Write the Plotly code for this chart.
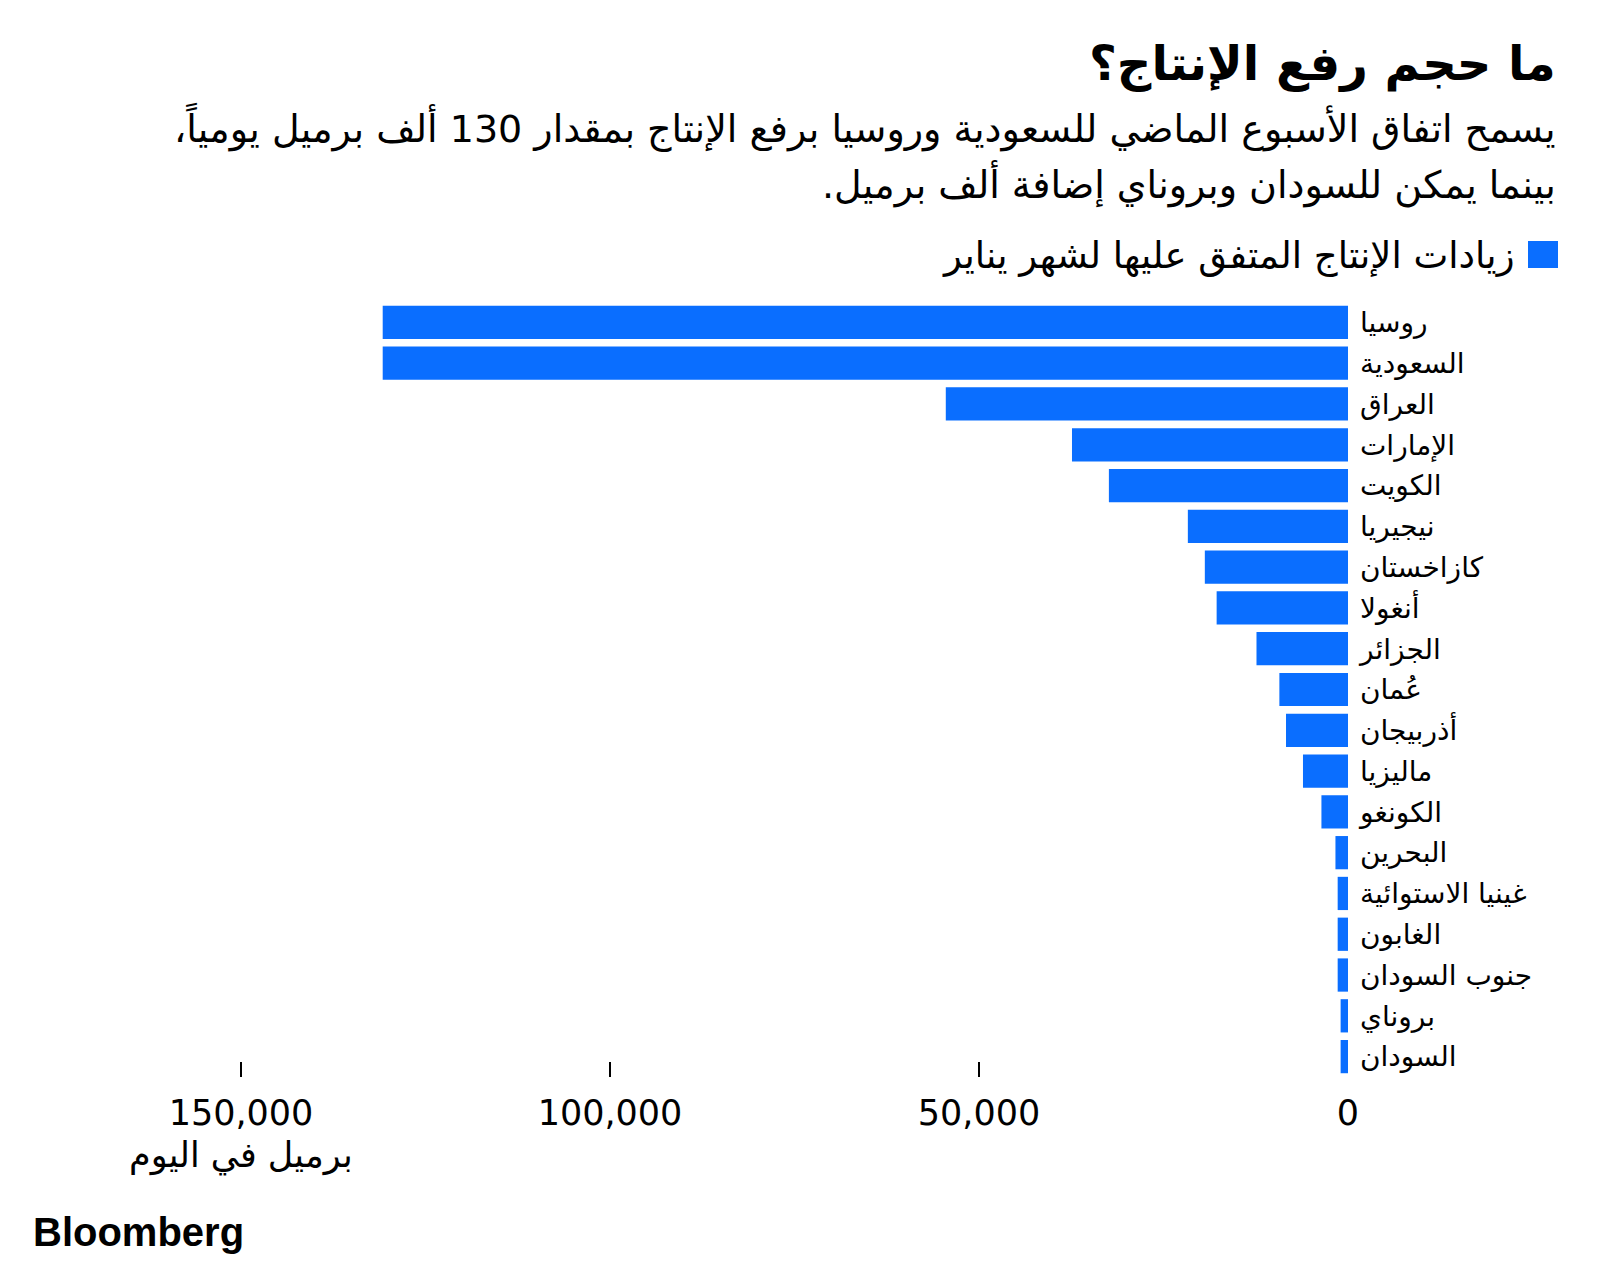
import plotly.graph_objects as go

# ---- data ----
countries = ["روسيا", "السعودية", "العراق", "الإمارات", "الكويت", "نيجيريا",
             "كازاخستان", "أنغولا", "الجزائر", "عُمان", "أذربيجان", "ماليزيا",
             "الكونغو", "البحرين", "غينيا الاستوائية", "الغابون", "جنوب السودان",
             "بروناي", "السودان"]
increase = [130800, 130800, 54500, 37400, 32400, 21700, 19400, 17800, 12400,
            9300, 8400, 6100, 3600, 1700, 1400, 1400, 1400, 1000, 1000]
tick_values = [0, 50000, 100000, 150000]
tick_labels = ["0", "50,000", "100,000", "150,000"]
marked_ticks = [50000, 100000, 150000]

title = "ما حجم رفع الإنتاج؟"
subtitle1 = "يسمح اتفاق الأسبوع الماضي للسعودية وروسيا برفع الإنتاج بمقدار 130 ألف برميل يومياً،"
subtitle2 = "بينما يمكن للسودان وبروناي إضافة ألف برميل."
legend_text = "زيادات الإنتاج المتفق عليها لشهر يناير"
unit_text = "برميل في اليوم"

RLM = "\u200f"
BLUE = "#0A6EFF"
AR_FONT = "DejaVu Sans"

W, H = 1600, 1267
L, RX, T, B = 60, 1348, 302, 1077
xmax = (RX - L) / ((RX - 241) / 150000)


def px(x):
    return (x - L) / (RX - L)


def py(y):
    return (B - y) / (B - T)


fig = go.Figure(go.Bar(
    x=increase, y=countries, orientation="h",
    marker=dict(color=BLUE, line=dict(width=0)),
    hoverinfo="x+y", showlegend=False,
))

fig.update_layout(
    width=W, height=H,
    margin=dict(l=L, r=W - RX, t=T, b=H - B, pad=0),
    paper_bgcolor="white", plot_bgcolor="white",
    bargap=0.185,
    font=dict(family=AR_FONT, color="#000"),
    xaxis=dict(
        range=[xmax, 0], tickmode="array", tickvals=tick_values, ticktext=tick_labels,
        ticks="", showgrid=False, zeroline=False, showline=False,
        tickfont=dict(size=35, family="DejaVu Sans", color="#000"),
        ticklabelstandoff=12,
        minor=dict(tickmode="array", tickvals=marked_ticks, ticks="inside",
                   ticklen=15, tickwidth=1.5, tickcolor="#000", showgrid=False),
    ),
    yaxis=dict(
        categoryorder="array", categoryarray=countries, autorange="reversed",
        side="right", ticks="", showgrid=False, zeroline=False, showline=False,
        tickfont=dict(size=28, family=AR_FONT, color="#000"),
        ticklabelstandoff=11,
    ),
)

annotations = [
    dict(text=RLM + title + RLM, x=px(1558), y=py(64), xanchor="right", yanchor="middle",
         font=dict(size=48, family=AR_FONT, weight="bold", color="#000")),
    dict(text=RLM + subtitle1 + RLM, x=px(1558), y=py(127), xanchor="right", yanchor="middle",
         font=dict(size=38, family=AR_FONT, color="#000")),
    dict(text=RLM + subtitle2 + RLM, x=px(1558), y=py(184), xanchor="right", yanchor="middle",
         font=dict(size=38, family=AR_FONT, color="#000")),
    dict(text=RLM + legend_text + RLM, x=px(1517), y=py(255), xanchor="right", yanchor="middle",
         font=dict(size=37, family=AR_FONT, color="#000")),
    dict(text=unit_text, x=150000, xref="x", y=py(1155), xanchor="center", yanchor="middle",
         font=dict(size=35, family=AR_FONT, color="#000")),
    dict(text="Bloomberg", x=px(31), y=py(1232), xanchor="left", yanchor="middle",
         font=dict(size=40, family="Liberation Sans", weight="bold", color="#000")),
]
for a in annotations:
    a.setdefault("xref", "paper")
    a["yref"] = "paper"
    a["showarrow"] = False
fig.update_layout(annotations=annotations)

fig.add_shape(type="rect", xref="paper", yref="paper",
              x0=px(1528), x1=px(1558), y0=py(268), y1=py(241),
              fillcolor=BLUE, line=dict(width=0))

fig.write_html("out.html", config={"displayModeBar": False},
               post_script="document.body.style.margin='0';")
